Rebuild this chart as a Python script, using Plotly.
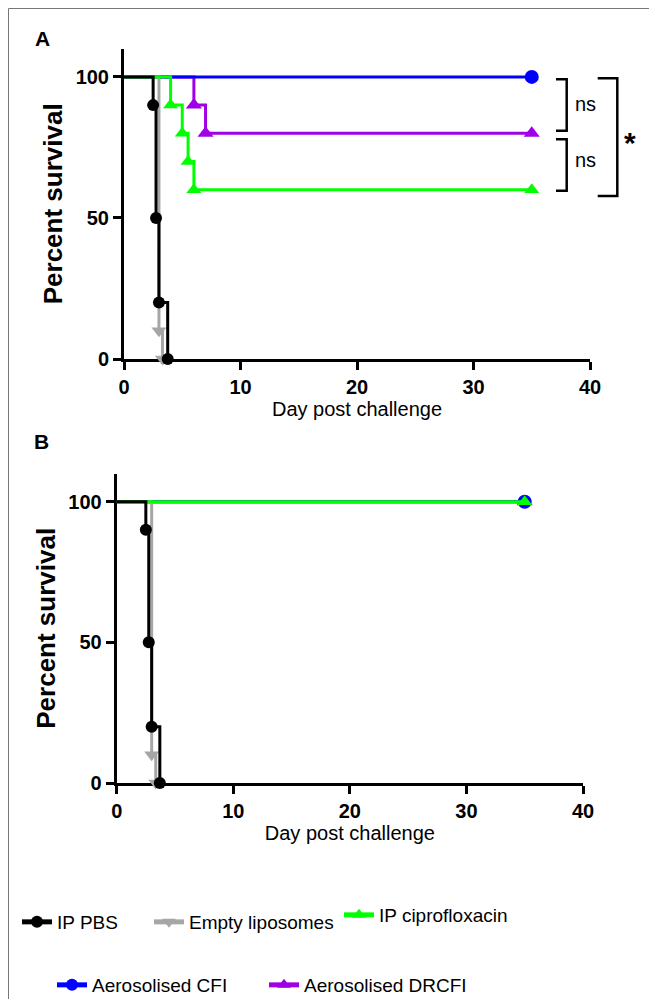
import plotly.graph_objects as go

# ---------------- data ----------------
group_names = ["IP PBS", "Empty liposomes", "IP ciprofloxacin",
               "Aerosolised CFI", "Aerosolised DRCFI"]

# Panel A (day, percent survival at each event)
a_pbs_day = [0, 2.5, 2.75, 3.0, 3.75]
a_pbs_pct = [100, 90, 50, 20, 0]
a_lipo_day = [0, 3.0, 3.3]
a_lipo_pct = [100, 10, 0]
a_cipro_day = [0, 4, 5, 5.5, 6, 35]
a_cipro_pct = [100, 90, 80, 70, 60, 60]
a_cfi_day = [0, 35]
a_cfi_pct = [100, 100]
a_drcfi_day = [0, 6, 7, 35]
a_drcfi_pct = [100, 90, 80, 80]

# Panel B
b_pbs_day = [0, 2.5, 2.75, 3.0, 3.7]
b_pbs_pct = [100, 90, 50, 20, 0]
b_lipo_day = [0, 3.0, 3.35]
b_lipo_pct = [100, 10, 0]
b_cipro_day = [0, 35]
b_cipro_pct = [100, 100]
b_cfi_day = [0, 35]
b_cfi_pct = [100, 100]
b_drcfi_day = [0, 35]
b_drcfi_pct = [100, 100]

x_ticks = [0, 10, 20, 30, 40]
y_ticks = [0, 50, 100]
sig_labels = ["ns", "ns", "*"]

# ---------------- style ----------------
PAGE_OFF = 8          # default page margin around the figure
W, H = 649, 991
FONT = "Arial, Liberation Sans, sans-serif"
colors = ["#000000", "#A6A6A6", "#00FF00", "#0000FF", "#A000E6"]
symbols = ["circle", "triangle-down", "triangle-up", "circle", "triangle-up"]
msizes = [12, 13, 13, 14, 14]


def px(x):
    return (x - PAGE_OFF) / W


def py(y):
    return 1 - (y - PAGE_OFF) / H


fig = go.Figure()

panels = [
    ("x", "y", [a_pbs_day, a_lipo_day, a_cipro_day, a_cfi_day, a_drcfi_day],
     [a_pbs_pct, a_lipo_pct, a_cipro_pct, a_cfi_pct, a_drcfi_pct], True),
    ("x2", "y2", [b_pbs_day, b_lipo_day, b_cipro_day, b_cfi_day, b_drcfi_day],
     [b_pbs_pct, b_lipo_pct, b_cipro_pct, b_cfi_pct, b_drcfi_pct], False),
]
draw_order = [4, 3, 1, 2, 0]
legend_ids = ["legend", "legend2", "legend3", "legend4", "legend5"]

for xa, ya, days, pcts, show in panels:
    for i in draw_order:
        n = len(days[i])
        sizes = [0] + [msizes[i]] * (n - 1)
        fig.add_trace(go.Scatter(
            x=days[i], y=pcts[i], xaxis=xa, yaxis=ya,
            mode="lines+markers", line_shape="hv",
            name=group_names[i],
            line=dict(color=colors[i], width=3),
            marker=dict(symbol=symbols[i], size=sizes, color=colors[i],
                        opacity=1, line=dict(width=0)),
            cliponaxis=False,
            showlegend=show, legend=legend_ids[i],
        ))

axis_common = dict(
    showline=True, linewidth=3, linecolor="black",
    ticks="outside", ticklen=8, tickwidth=3, tickcolor="black",
    tickfont=dict(family=FONT, size=20, color="black", weight="bold"),
    showgrid=False, zeroline=False, layer="below traces", fixedrange=True,
)

xtitle = dict(text="Day post challenge",
              font=dict(family=FONT, size=20, color="black"), standoff=5)
ytitle = dict(text="Percent survival",
              font=dict(family=FONT, size=26, color="black", weight="bold"),
              standoff=6)

fig.update_layout(
    xaxis=dict(domain=[px(124), px(590)], range=[0, 40], tickvals=x_ticks,
               anchor="y", title=xtitle, **axis_common),
    yaxis=dict(domain=[py(359), py(48.7)], range=[0, 110], tickvals=y_ticks,
               anchor="x", title=ytitle, **axis_common),
    xaxis2=dict(domain=[px(116.7), px(583)], range=[0, 40], tickvals=x_ticks,
                anchor="y2", title=xtitle, **axis_common),
    yaxis2=dict(domain=[py(783), py(473.6)], range=[0, 110], tickvals=y_ticks,
                anchor="x2", title=ytitle, **axis_common),
)

# legends: one per group, placed like the reference
leg_pos = [(17, 922), (149, 922), (339, 915), (52, 985), (264, 985)]
for lid, (lx, ly) in zip(legend_ids, leg_pos):
    fig.update_layout({lid: dict(
        x=px(lx), y=py(ly), xanchor="left", yanchor="middle",
        orientation="h", itemsizing="constant", bgcolor="rgba(0,0,0,0)",
        borderwidth=0, font=dict(family=FONT, size=19, color="black"))})

# frame
fig.add_shape(type="rect", xref="paper", yref="paper",
              x0=0.5 / W, y0=1 - 0.5 / H, x1=1.05, y1=-0.05,
              line=dict(color="#777777", width=1))

# significance brackets (panel A)
def bracket(x0, x1, y0, y1):
    path = (f"M {px(x0)},{py(y0)} L {px(x1)},{py(y0)} "
            f"L {px(x1)},{py(y1)} L {px(x0)},{py(y1)}")
    fig.add_shape(type="path", xref="paper", yref="paper", path=path,
                  line=dict(color="black", width=2.5))

bracket(556, 566.7, 79.3, 130.7)
bracket(556, 566.7, 139.3, 190.7)
bracket(597.7, 617.3, 78.3, 196)

ann = [
    dict(x=px(585), y=py(104), text=sig_labels[0], font=dict(size=20)),
    dict(x=px(585), y=py(160), text=sig_labels[1], font=dict(size=20)),
    dict(x=px(630), y=py(142), text=sig_labels[2],
         font=dict(size=30, weight="bold")),
    dict(x=px(42.5), y=py(38.5), text="A", font=dict(size=21, weight="bold")),
    dict(x=px(41.5), y=py(441.5), text="B", font=dict(size=21, weight="bold")),
]
for a in ann:
    a["font"].update(family=FONT, color="black")
    fig.add_annotation(xref="paper", yref="paper", showarrow=False,
                       xanchor="center", yanchor="middle", **a)

fig.update_layout(
    width=W, height=H,
    margin=dict(l=0, r=0, t=0, b=0, autoexpand=False),
    paper_bgcolor="white", plot_bgcolor="white",
    font=dict(family=FONT, color="black"),
)

fig.write_html("out.html")
